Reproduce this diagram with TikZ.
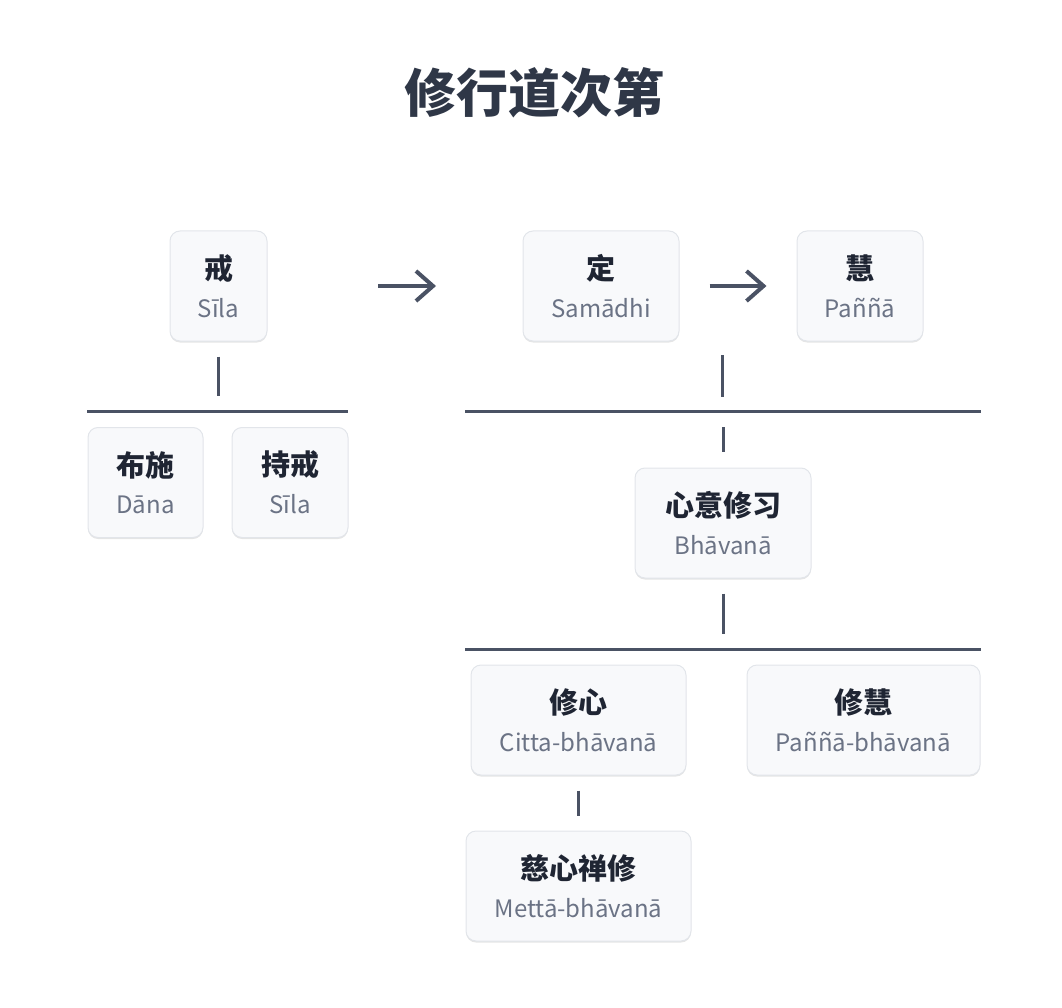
\documentclass[tikz,border=0pt]{standalone}
\usepackage{fontspec}
\setmainfont{Noto Sans CJK SC}
\usetikzlibrary{arrows.meta,shadows}
\definecolor{titleink}{HTML}{2F3747}
\definecolor{hanink}{HTML}{1F2533}
\definecolor{paligray}{HTML}{6B7385}
\definecolor{wire}{HTML}{4A5264}
\definecolor{boxfill}{HTML}{F8F9FB}
\definecolor{boxline}{HTML}{E2E5EA}
\newcommand{\hanzi}[1]{{\fontsize{29}{34}\selectfont\bfseries\color{hanink}#1}}
\newcommand{\palitext}[1]{{\fontsize{24}{30}\selectfont\color{paligray}#1}}
\tikzset{
  stage/.style={draw=boxline, line width=1pt, fill=boxfill, rounded corners=10pt,
    align=center, inner sep=0pt, minimum height=110pt,
    drop shadow={shadow xshift=0pt, shadow yshift=-1.5pt, opacity=0.10, fill=black}},
  bus/.style={draw=wire, line width=3pt},
  tick/.style={draw=wire, line width=3pt, shorten <=#1, shorten >=#1},
  flow/.style={draw=wire, line width=4pt, -{Straight Barb[length=17pt, width=30pt, line width=4pt]}}
}
\begin{document}
\begin{tikzpicture}[x=1pt, y=-1pt]
		\useasboundingbox (0,0) rectangle (1062,1008);
		\node[font=\fontsize{52}{60}\selectfont\bfseries, text=titleink] (title) at (534,93) {修行道次第};

		\node[stage, minimum width=97pt] (sila) at (218.5,286) {\hanzi{戒}\\[15pt]\palitext{Sīla}};
		\node[stage, minimum width=156pt] (samadhi) at (601,286) {\hanzi{定}\\[15pt]\palitext{Samādhi}};
		\node[stage, minimum width=126pt] (panna) at (860,286) {\hanzi{慧}\\[15pt]\palitext{Paññā}};
		\coordinate (flowA) at (378,286);
		\coordinate (flowB) at (436,286);
		\draw[flow] (flowA) -- (flowB);
		\draw[flow] ([xshift=30pt]samadhi.east) -- ([xshift=-30pt]panna.west);

		\coordinate (silaBusL) at (87,411);
		\coordinate (silaBusR) at (348,411);
		\draw[bus] (silaBusL) -- (silaBusR);
		\draw[tick=15pt] (sila.south) -- (sila.south |- silaBusL);
		\node[stage, minimum width=115pt] (dana) at (145.5,482.5) {\hanzi{布施}\\[15pt]\palitext{Dāna}};
		\node[stage, minimum width=116pt] (chijie) at (290,482.5) {\hanzi{持戒}\\[15pt]\palitext{Sīla}};

		\coordinate (topRow) at (722,341);
		\coordinate (mainBusL) at (465,411);
		\coordinate (mainBusR) at (981,411);
		\draw[tick=14pt] (topRow) -- (topRow |- mainBusL);
		\draw[bus] (mainBusL) -- (mainBusR);
		\node[stage, minimum width=176pt] (bhavana) at (723,523) {\hanzi{心意修习}\\[15pt]\palitext{Bhāvanā}};
		\draw[tick=16pt] (bhavana.north |- mainBusL) -- (bhavana.north);

		\coordinate (subBusL) at (465,649);
		\coordinate (subBusR) at (981,649);
		\draw[bus] (subBusL) -- (subBusR);
		\draw[tick=15pt] (bhavana.south) -- (bhavana.south |- subBusL);
		\node[stage, minimum width=215pt] (citta) at (578.5,720) {\hanzi{修心}\\[15pt]\palitext{Citta-bhāvanā}};
		\node[stage, minimum width=233pt] (pannabh) at (863.5,720) {\hanzi{修慧}\\[15pt]\palitext{Paññā-bhāvanā}};

		\node[stage, minimum width=225pt] (metta) at (578.5,886) {\hanzi{慈心禅修}\\[15pt]\palitext{Mettā-bhāvanā}};
		\draw[tick=15pt] (citta.south) -- (metta.north);
	\end{tikzpicture}
\end{document}
